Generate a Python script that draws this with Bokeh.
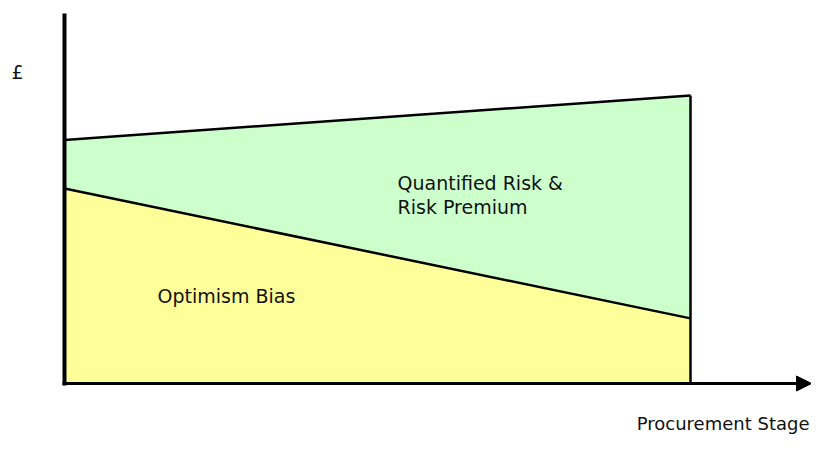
from bokeh.plotting import figure
from bokeh.models import Range1d, Label, Arrow, NormalHead
from bokeh.embed import file_html
from bokeh.resources import INLINE

# ---- data ----
stages = [0.0, 1.0]                 # start / end of procurement
optimism_bias = [55.7, 18.6]        # lower band (£)
risk_premium = [13.9, 63.7]         # upper band thickness (£)
area_labels = ["Quantified Risk &", "Risk Premium", "Optimism Bias"]
y_label = "£"
x_label = "Procurement Stage"

total = [a + b for a, b in zip(optimism_bias, risk_premium)]

# pixel helpers (canvas coordinates -> data)
def X(px):
    return (px - 64) / 626.0

def Y(py):
    return (383 - py) / 3.5

W, H = 811, 436
p = figure(width=W, height=H, output_backend="svg", toolbar_location=None,
           x_range=Range1d(X(0), X(W)), y_range=Range1d(Y(H), Y(0)),
           min_border=0, outline_line_color=None)
p.axis.visible = False
p.grid.visible = False
p.background_fill_color = "white"
p.border_fill_color = "white"

# areas
p.varea(x=stages, y1=[0, 0], y2=optimism_bias, fill_color="#FFFF99")
p.varea(x=stages, y1=optimism_bias, y2=total, fill_color="#CCFFCC")

# outlines
p.line(stages, total, line_color="black", line_width=2.5)
p.line(stages, optimism_bias, line_color="black", line_width=2.5)
p.segment(x0=[stages[-1]], y0=[0], x1=[stages[-1]], y1=[total[-1]],
          line_color="black", line_width=2.5)

# axes
p.segment(x0=[0], y0=[Y(385)], x1=[0], y1=[Y(13)], line_color="black", line_width=4)
p.add_layout(Arrow(end=NormalHead(size=15, fill_color="black", line_color="black"),
                   x_start=X(62), y_start=0, x_end=X(811), y_end=0,
                   line_color="black", line_width=3))

font = "DejaVu Sans"
def lab(txt, px, py, size="19px", align="left"):
    p.add_layout(Label(x=X(px), y=Y(py), text=txt, text_font=font,
                       text_font_size=size, text_color="#111111",
                       text_baseline="alphabetic", text_align=align))

lab(y_label, 11, 71)
lab(area_labels[0], 397, 182)
lab(area_labels[1], 397, 206)
lab(area_labels[2], 157, 295)
lab(x_label, 809, 423, size="18px", align="right")

open("out.html", "w").write(file_html(p, INLINE))
